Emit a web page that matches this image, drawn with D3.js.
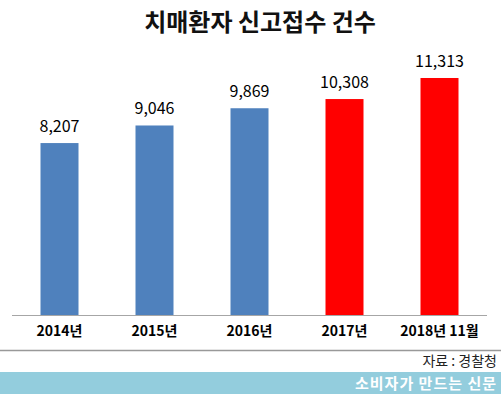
<!DOCTYPE html>
<html>
<head>
<meta charset="utf-8">
<script src="https://cdn.jsdelivr.net/npm/d3@7"></script>
<style>
  body { margin: 0; background: #fff; }
  svg text { font-family: "Noto Sans CJK KR", sans-serif; }
</style>
</head>
<body>
<svg id="chart" width="501" height="394"></svg>
<script>
var years = ["2014년", "2015년", "2016년", "2017년", "2018년 11월"];
var counts = [8207, 9046, 9869, 10308, 11313];
var colors = ["#4f81bd", "#4f81bd", "#4f81bd", "#ff0000", "#ff0000"];

var data = years.map(function(d, i) { return {year: d, count: counts[i], color: colors[i]}; });

var svg = d3.select("#chart");
var width = 501, height = 394;
var baseline = 315;

var x = d3.scaleBand()
    .domain(years)
    .range([12, 487])
    .paddingInner(0.6)
    .paddingOuter(0.3);

var y = d3.scaleLinear()
    .domain([0, 12000])
    .range([baseline, baseline - 251.4]);

// title
svg.append("text")
    .attr("x", 260)
    .attr("y", 31)
    .attr("text-anchor", "middle")
    .style("font-size", "24px")
    .style("font-weight", "bold")
    .style("fill", "#111")
    .text("치매환자 신고접수 건수");

svg.selectAll(".bar")
    .data(data)
    .enter()
  .append("rect")
    .attr("class", "bar")
    .attr("x", function(d) { return x(d.year); })
    .attr("width", x.bandwidth())
    .attr("y", function(d) { return y(d.count); })
    .attr("height", function(d) { return baseline - y(d.count); })
    .style("fill", function(d) { return d.color; });

svg.selectAll(".val")
    .data(data)
    .enter()
  .append("text")
    .attr("class", "val")
    .attr("x", function(d) { return x(d.year) + x.bandwidth() / 2; })
    .attr("y", function(d) { return y(d.count) - 11; })
    .attr("text-anchor", "middle")
    .style("font-size", "16px")
    .style("fill", "#000")
    .text(function(d) { return d3.format(",")(d.count); });

// x axis
var xAxis = svg.append("g")
    .attr("transform", "translate(0," + baseline + ")")
    .call(d3.axisBottom(x).tickSize(0).tickPadding(11));
xAxis.select(".domain").attr("stroke", "#a6a6a6").attr("d", "M12,0.5H487");
xAxis.selectAll("text")
    .style("font-size", "14px")
    .style("font-weight", "bold")
    .style("fill", "#000")
    .style("font-family", "\"Noto Sans CJK KR\", sans-serif");

// footer
svg.append("line")
    .attr("x1", 0).attr("x2", width)
    .attr("y1", 350.5).attr("y2", 350.5)
    .attr("stroke", "#999")
    .attr("stroke-width", 1.5);

svg.append("text")
    .attr("x", 497)
    .attr("y", 366)
    .attr("text-anchor", "end")
    .style("font-size", "14px")
    .style("fill", "#222")
    .text("자료 : 경찰청");

svg.append("rect")
    .attr("x", 0).attr("y", 372)
    .attr("width", width).attr("height", 22)
    .style("fill", "#93cddd");

svg.append("text")
    .attr("x", 497)
    .attr("y", 389)
    .attr("text-anchor", "end")
    .style("font-size", "15px")
    .style("font-weight", "bold")
    .style("letter-spacing", "1px")
    .style("fill", "#fff")
    .text("소비자가 만드는 신문");
</script>
</body>
</html>
